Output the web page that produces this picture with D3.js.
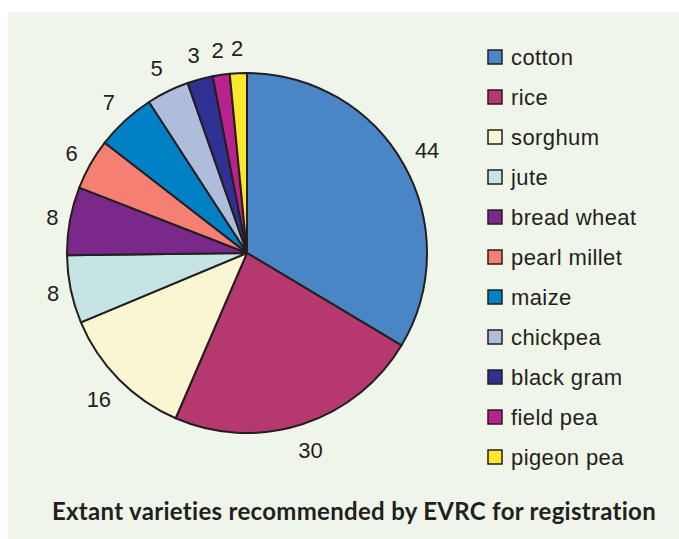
<!DOCTYPE html>
<html>
<head>
<meta charset="utf-8">
<script src="https://cdn.jsdelivr.net/npm/d3@7"></script>
<style>
  html, body { margin: 0; padding: 0; background: #ffffff; }
  svg { display: block; }
</style>
</head>
<body>
<svg id="chart" width="679" height="539"></svg>
<script>
const categories = ["cotton", "rice", "sorghum", "jute", "bread wheat", "pearl millet", "maize", "chickpea", "black gram", "field pea", "pigeon pea"];
const values = [44, 30, 16, 8, 8, 6, 7, 5, 3, 2, 2];
const colors = ["#4a86c6", "#b5386f", "#faf5d2", "#c6e4e3", "#7a288a", "#f47f72", "#0081c5", "#afbddd", "#2e3192", "#b8228d", "#f9e82d"];
const title = "Extant varieties recommended by EVRC for registration";

const svg = d3.select("#chart");
const W = 679, H = 539;

svg.append("rect").attr("x", 8).attr("y", 12).attr("width", W - 8).attr("height", H - 12)
  .attr("fill", "#eff5e8");

const cx = 247, cy = 253, r = 180;
const data = categories.map((c, i) => ({ name: c, value: values[i], color: colors[i] }));

const pie = d3.pie().value(d => d.value).sort(null);
const arcs = pie(data);
const arc = d3.arc().innerRadius(0).outerRadius(r);

const g = svg.append("g").attr("transform", `translate(${cx},${cy})`);
g.selectAll("path.slice").data(arcs).join("path")
  .attr("class", "slice")
  .attr("d", arc)
  .attr("fill", d => d.data.color)
  .attr("stroke", "#231f20")
  .attr("stroke-width", 2)
  .attr("stroke-linejoin", "round");

// labels: box edge kept at a fixed gap outside the rim
const gap = 9, halfH = 15;
const lbls = g.selectAll("text.lbl").data(arcs).join("text")
  .attr("class", "lbl")
  .attr("text-anchor", "middle")
  .attr("dominant-baseline", "central")
  .attr("font-family", "'Liberation Sans', Arial, sans-serif")
  .attr("font-size", 22)
  .attr("fill", "#231f20")
  .text(d => d.data.value);
lbls.each(function(d) {
  const a = (d.startAngle + d.endAngle) / 2;
  const s = Math.sin(a), c = Math.cos(a);
  const halfW = this.getComputedTextLength() / 2;
  const dist = r + gap + Math.abs(s) * halfW + Math.abs(c) * halfH;
  d3.select(this).attr("x", s * dist).attr("y", -c * dist);
});

const legend = svg.append("g");
const ly = d3.scaleBand().domain(categories).range([37, 477]);
const items = legend.selectAll("g").data(data).join("g")
  .attr("transform", d => `translate(488, ${ly(d.name) + ly.bandwidth() / 2})`);
items.append("rect")
  .attr("x", 0).attr("y", -7).attr("width", 14).attr("height", 14)
  .attr("fill", d => d.color)
  .attr("stroke", "#231f20").attr("stroke-width", 1.5);
items.append("text")
  .attr("x", 23).attr("y", 0)
  .attr("dominant-baseline", "central")
  .attr("font-family", "'Liberation Sans', Arial, sans-serif")
  .attr("font-size", 22)
  .attr("letter-spacing", 0.4)
  .attr("fill", "#231f20")
  .text(d => d.name);

svg.append("text")
  .attr("x", 354).attr("y", 520)
  .attr("text-anchor", "middle")
  .attr("font-family", "Lato, 'Open Sans', sans-serif")
  .attr("font-weight", "bold")
  .attr("font-size", 24)
  .attr("letter-spacing", 0.3)
  .attr("fill", "#231f20")
  .text(title);
</script>
</body>
</html>
